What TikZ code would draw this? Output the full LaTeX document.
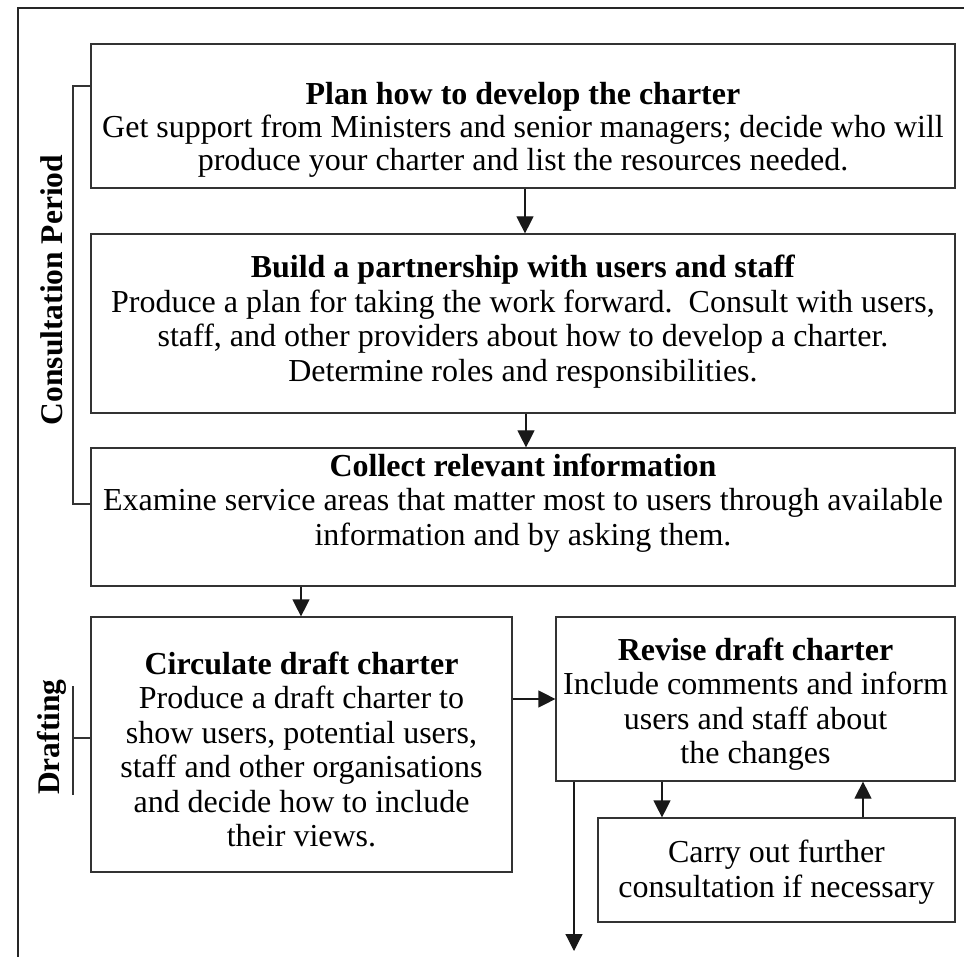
\documentclass[tikz,border=0pt]{standalone}
\usepackage{fontspec}
\setmainfont{Liberation Serif}
\usetikzlibrary{arrows.meta}
\begin{document}
\begin{tikzpicture}[x=1pt,y=-1pt,
  box/.style={draw=black!80,line width=1.2pt,rectangle,inner sep=0pt},
  txt/.style={align=center,inner sep=0pt,font=\fontsize{32}{34.5}\selectfont},
  lbl/.style={rotate=90,inner sep=0pt,font=\fontsize{31.5}{34}\selectfont\bfseries},
  arr/.style={draw=black!90,line width=1.2pt,-{Triangle[length=17pt,width=17pt]}},
  brk/.style={draw=black!80,line width=1.2pt}]
\useasboundingbox (0,0) rectangle (964,957);
\fill[white] (0,0) rectangle (964,957);
% outer frame
\draw[black!85,line width=1.6pt] (18,957) -- (18,8) -- (964,8);
% boxes
\node[box,minimum width=864pt,minimum height=144pt] (b1) at (523,116) {};
\node[box,minimum width=864pt,minimum height=179pt] (b2) at (523,323.5) {};
\node[box,minimum width=864pt,minimum height=138pt] (b3) at (523,517) {};
\node[box,minimum width=421pt,minimum height=255pt] (b4) at (301.5,744.5) {};
\node[box,minimum width=399pt,minimum height=164pt] (b5) at (755.5,699) {};
\node[box,minimum width=357pt,minimum height=104pt] (b6) at (776.5,870) {};
% texts
\node[txt,font=\fontsize{32}{33}\selectfont] (t1) at ([yshift=-14pt]b1.center) {\textbf{Plan how to develop the charter}\\Get support from Ministers and senior managers; decide who will\\produce your charter and list the resources needed.};
\node[txt] (t2) at ([yshift=2pt]b2.center) {\textbf{Build a partnership with users and staff}\\Produce a plan for taking the work forward.\ \ Consult with users,\\staff, and other providers about how to develop a charter.\\Determine roles and responsibilities.};
\node[txt] (t3) at ([yshift=14pt]b3.center) {\textbf{Collect relevant information}\\Examine service areas that matter most to users through available\\information and by asking them.};
\node[txt] (t4) at ([yshift=-5pt]b4.center) {\textbf{Circulate draft charter}\\Produce a draft charter to\\show users, potential users,\\staff and other organisations\\and decide how to include\\their views.};
\node[txt] (t5) at ([yshift=-5pt]b5.center) {\textbf{Revise draft charter}\\Include comments and inform\\users and staff about\\the changes};
\node[txt] (t6) at ([yshift=-2pt]b6.center) {Carry out further\\consultation if necessary};
% side labels
\node[lbl] (lc) at (52,290) {Consultation Period};
\node[lbl] (ld) at (52,737) {Drafting};
% brackets
\draw[brk] (b1.west |- 0,86) -- (73,86) -- (73,504) -- (b3.west |- 0,504);
\draw[brk] (73,686) -- (73,795);
\draw[brk] (73,738) -- (b4.west |- 0,738);
% arrows
\draw[arr] (b1.south -| 525,0) -- (b2.north -| 525,0);
\draw[arr] (b2.south -| 526,0) -- (b3.north -| 526,0);
\draw[arr] (b3.south -| 301,0) -- (b4.north -| 301,0);
\draw[arr] (b4.east |- 0,699) -- (b5.west |- 0,699);
\draw[arr] (b5.south -| 662,0) -- (b6.north -| 662,0);
\draw[arr] (b6.north -| 863,0) -- (b5.south -| 863,0);
\coordinate (out) at (574,951);
\draw[arr] (b5.south -| out) -- (out);
\end{tikzpicture}
\end{document}
